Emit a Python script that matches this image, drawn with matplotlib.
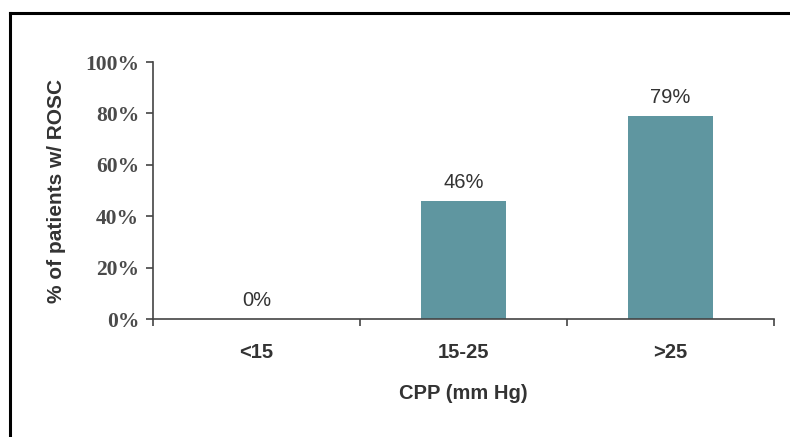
import matplotlib
matplotlib.use("Agg")
import matplotlib.pyplot as plt
from matplotlib.lines import Line2D

categories = ["<15", "15-25", ">25"]
rosc_pct = [0, 46, 79]
y_ticks = [0, 20, 40, 60, 80, 100]

bar_color = "#5F96A0"
text_color = "#333333"

plt.rcParams["font.family"] = ["Liberation Sans", "DejaVu Sans"]

fig = plt.figure(figsize=(7.9, 4.37), dpi=100)
fig.patch.set_facecolor("white")
ax = fig.add_axes([0.1937, 0.270, 0.786, 0.588])

x = list(range(len(categories)))
ax.bar(x, rosc_pct, width=0.41, color=bar_color, zorder=2)

for xi, v in zip(x, rosc_pct):
    ax.text(xi, v + 3.5, f"{v}%", ha="center", va="bottom",
            fontsize=14.5, color=text_color)

ax.set_xlim(-0.5, len(categories) - 0.5)
ax.set_ylim(0, 100)
ax.set_yticks(y_ticks)
ax.set_yticklabels([f"{t}%" for t in y_ticks], fontsize=15.5,
                   fontweight="bold", color="#4A4A4A",
                   family=["Liberation Serif", "DejaVu Serif"])

ax.set_xticks(x)
ax.set_xticklabels(categories, fontsize=14.5, fontweight="bold",
                   color=text_color)
ax.tick_params(axis="x", length=0, pad=17)
ax.set_xticks([i + 0.5 for i in range(-1, len(categories))], minor=True)
ax.tick_params(axis="x", which="minor", length=5, width=1.2,
               direction="out", color="#444444")
ax.tick_params(axis="y", length=5, width=1.2, direction="out",
               color="#444444", pad=5)

for side in ("top", "right"):
    ax.spines[side].set_visible(False)
for side in ("left", "bottom"):
    ax.spines[side].set_color("#444444")
    ax.spines[side].set_linewidth(1.2)

ax.set_ylabel("% of patients w/ ROSC", fontsize=15, fontweight="bold",
              color=text_color, labelpad=14)
ax.set_xlabel("CPP (mm Hg)", fontsize=14.5, fontweight="bold",
              color=text_color, labelpad=16)

# frame lines along the top and left of the figure
W, H = 790, 437
fig.add_artist(Line2D([10 / W, 1.0], [1 - 13 / H, 1 - 13 / H],
                      color="black", linewidth=2.2, transform=fig.transFigure))
fig.add_artist(Line2D([10 / W, 10 / W], [1 - 13 / H, 0.0],
                      color="black", linewidth=2.2, transform=fig.transFigure))

fig.savefig("out.png", dpi=100, facecolor="white")
